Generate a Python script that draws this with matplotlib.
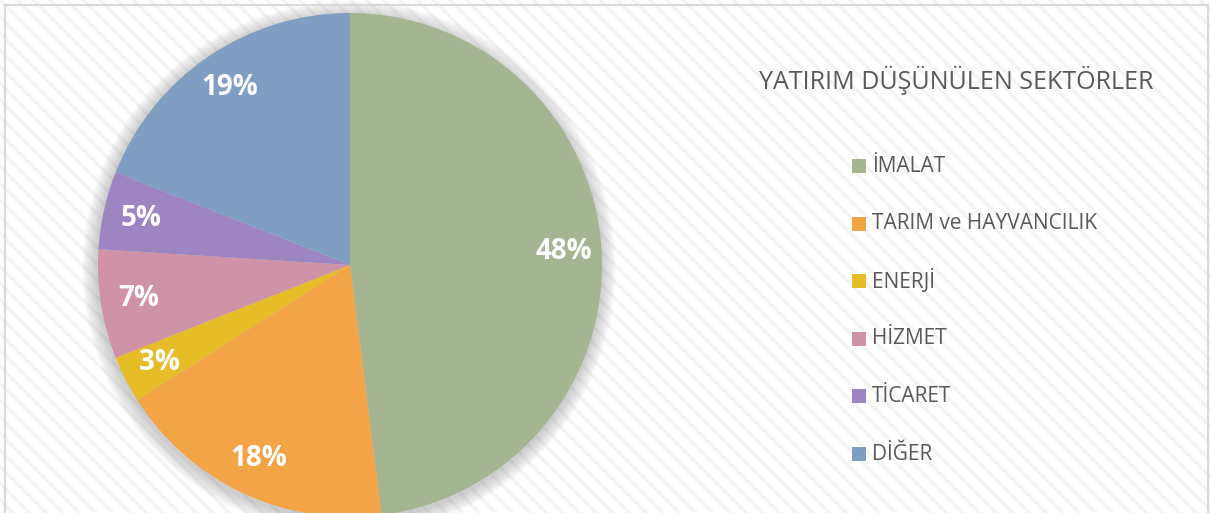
import matplotlib
matplotlib.use("Agg")
import matplotlib.pyplot as plt
from matplotlib.patches import Rectangle, Circle

# ---- data ----
categories = ["İMALAT", "TARIM ve HAYVANCILIK", "ENERJİ", "HİZMET", "TİCARET", "DİĞER"]
values = [48, 18, 3, 7, 5, 19]
colors = ["#A5B592", "#F3A447", "#E7BC29", "#D092A7", "#9C85C0", "#809EC2"]
title = "YATIRIM DÜŞÜNÜLEN SEKTÖRLER"

W, H = 1211, 513
plt.rcParams['font.family'] = ['Open Sans', 'DejaVu Sans']
plt.rcParams['hatch.linewidth'] = 2.2

fig = plt.figure(figsize=(W / 100, H / 100), dpi=100)
ax = fig.add_axes([0, 0, 1, 1])

# background stripes
bg = Rectangle((0, 0), W, H, facecolor="white", edgecolor="#f3f3f3",
               hatch="\\\\", linewidth=0, zorder=0)
ax.add_patch(bg)

cx, cy, r = 350, H - 265, 252

# soft shadow
for k in range(1, 16):
    ax.add_patch(Circle((cx - 1, cy - 3), r + k, facecolor="#808080",
                        alpha=0.028, linewidth=0, zorder=1))

wedges, texts, autotexts = ax.pie(
    values, colors=colors, startangle=90, counterclock=False,
    center=(cx, cy), radius=r, autopct='%1.0f%%', pctdistance=0.85,
    wedgeprops=dict(linewidth=0, zorder=2),
    textprops=dict(color='white', fontsize=20, fontweight='bold'))
for t in autotexts:
    t.set_zorder(5)

ax.set_xlim(0, W)
ax.set_ylim(0, H)
ax.set_aspect('equal')
ax.axis('off')

# frame
ax.plot([5, 5, W - 3, W - 3], [-5, H - 5, H - 5, -5], color="#d9d9d9",
        linewidth=1.5, zorder=6, solid_joinstyle='miter')

# title
ax.text(956, H - 80, title, ha='center', va='center', fontsize=18,
        color="#595959", zorder=6)

# legend
row0, step = 166, 57.6
for i, (lab, col) in enumerate(zip(categories, colors)):
    y = H - (row0 + i * step)
    ax.add_patch(Rectangle((852, y - 7), 14, 14, facecolor=col,
                           linewidth=0, zorder=6))
    ax.text(872, y, lab, ha='left', va='center', fontsize=15,
            color="#595959", zorder=6)

fig.savefig("out.png", dpi=100)
